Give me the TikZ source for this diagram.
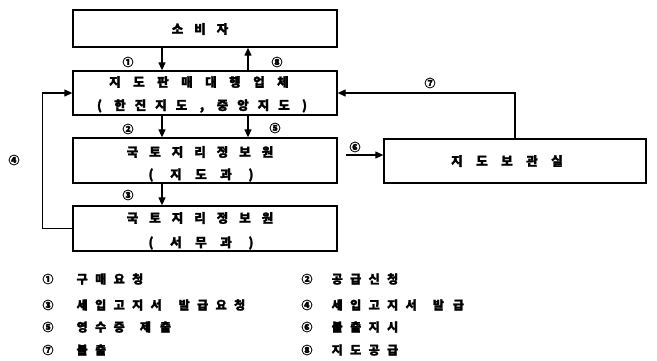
\documentclass[tikz,border=0pt]{standalone}
\usepackage{fontspec}
\setmainfont{Noto Sans CJK KR}[FakeBold=2]
\usetikzlibrary{arrows.meta,calc}
\newcommand\spc[2]{\def\spcw{#1}\spcloop#2\relax}
\def\spcloop#1{\ifx#1\relax\else\makebox[\spcw]{#1}\expandafter\spcloop\fi}
\tikzset{
  box/.style={draw, line width=1.3pt, minimum width=264pt, inner sep=0pt},
  txt/.style={inner sep=0pt, font=\fontsize{12.5}{14}\selectfont\bfseries},
  num/.style={inner sep=0pt, font=\fontsize{11}{12}\selectfont\bfseries},
  leg/.style={inner sep=0pt, anchor=west, font=\fontsize{12}{14}\selectfont\bfseries},
  arr/.style={line width=1.2pt, -{Triangle[length=8pt,width=7pt]}},
  ln/.style={line width=1.2pt}
}
\begin{document}
\begin{tikzpicture}[x=1pt,y=-1pt]
\useasboundingbox[fill=white] (0,0) rectangle (657,360);
% boxes
\node[box, minimum height=37pt] (cons) at (205,28.5) {};
\node[box, minimum height=44pt] (agent) at (205,93) {};
\node[box, minimum height=45pt] (map) at (205,160.5) {};
\node[box, minimum height=45pt] (gen) at (205,228.5) {};
\node[box, minimum width=262pt, minimum height=44pt] (store) at (515,161) {};
% box texts
\node[txt] (consT) at (200,29) {\spc{22.5pt}{소비자}};
\node[txt] (agentT1) at (199,82) {\spc{24pt}{지도판매대행업체}};
\node[txt] (agentT2) at (202,106) {\spc{20.5pt}{(한진지도,중앙지도)}};
\node[txt] (mapT1) at (200,152) {\spc{22.5pt}{국토지리정보원}};
\node[txt] (mapT2) at (201,175) {\spc{25pt}{(지도과)}};
\node[txt] (genT1) at (200,218) {\spc{22.5pt}{국토지리정보원}};
\node[txt] (genT2) at (201,243) {\spc{25pt}{(서무과)}};
\node[txt] (storeT) at (507,161) {\spc{25pt}{지도보관실}};
% helper columns
\coordinate (cA) at (162,0);
\coordinate (cB) at (248,0);
\coordinate (a6) at (346,155);
% connectors
\draw[arr] (cA |- cons.south) -- (cA |- agent.north);
\draw[arr] (cB |- agent.north) -- (cB |- cons.south);
\draw[arr] (cA |- agent.south) -- (cA |- map.north);
\draw[arr] (cB |- agent.south) -- (cB |- map.north);
\draw[arr] (cA |- map.south) -- (cA |- gen.north);
\draw[arr] (gen.west) -- ++(-30,0) |- (agent.west);
\draw[arr] (store.north) |- (agent.east);
\draw[arr] (a6) -- (a6 -| store.west);
% connector labels
\node[num] (n1) at (128,62) {①};
\node[num] (n8) at (277,62) {⑧};
\node[num] (n2) at (128,129) {②};
\node[num] (n5) at (275,128) {⑤};
\node[num] (n3) at (128,195) {③};
\node[num] (n4) at (14,160) {④};
\node[num] (n7) at (430,83) {⑦};
\node[num] (n6) at (355,147) {⑥};
% legend
\node[num] (l1) at (48,279) {①};
\node[leg] (l1t) at (72.75,279) {\spc{18.5pt}{구매요청}};
\node[num] (l3) at (48,305) {③};
\node[leg] (l3t) at (72.75,305) {\spc{18.5pt}{세입고지서}\hspace{9.5pt}\spc{18.5pt}{발급요청}};
\node[num] (l5) at (48,327) {⑤};
\node[leg] (l5t) at (72.75,327) {\spc{18.5pt}{영수증}\hspace{7pt}\spc{20pt}{제출}};
\node[num] (l7) at (48,350) {⑦};
\node[leg] (l7t) at (72.75,350) {\spc{18.5pt}{불출}};
\node[num] (l2) at (307,279) {②};
\node[leg] (l2t) at (327.75,279) {\spc{18.5pt}{공급신청}};
\node[num] (l4) at (307,305) {④};
\node[leg] (l4t) at (327.75,305) {\spc{18.5pt}{세입고지서}\hspace{8pt}\spc{20pt}{발급}};
\node[num] (l6) at (307,327) {⑥};
\node[leg] (l6t) at (327.75,327) {\spc{18.5pt}{불출지시}};
\node[num] (l8) at (307,350) {⑧};
\node[leg] (l8t) at (327.75,350) {\spc{18.5pt}{지도공급}};
\end{tikzpicture}
\end{document}
